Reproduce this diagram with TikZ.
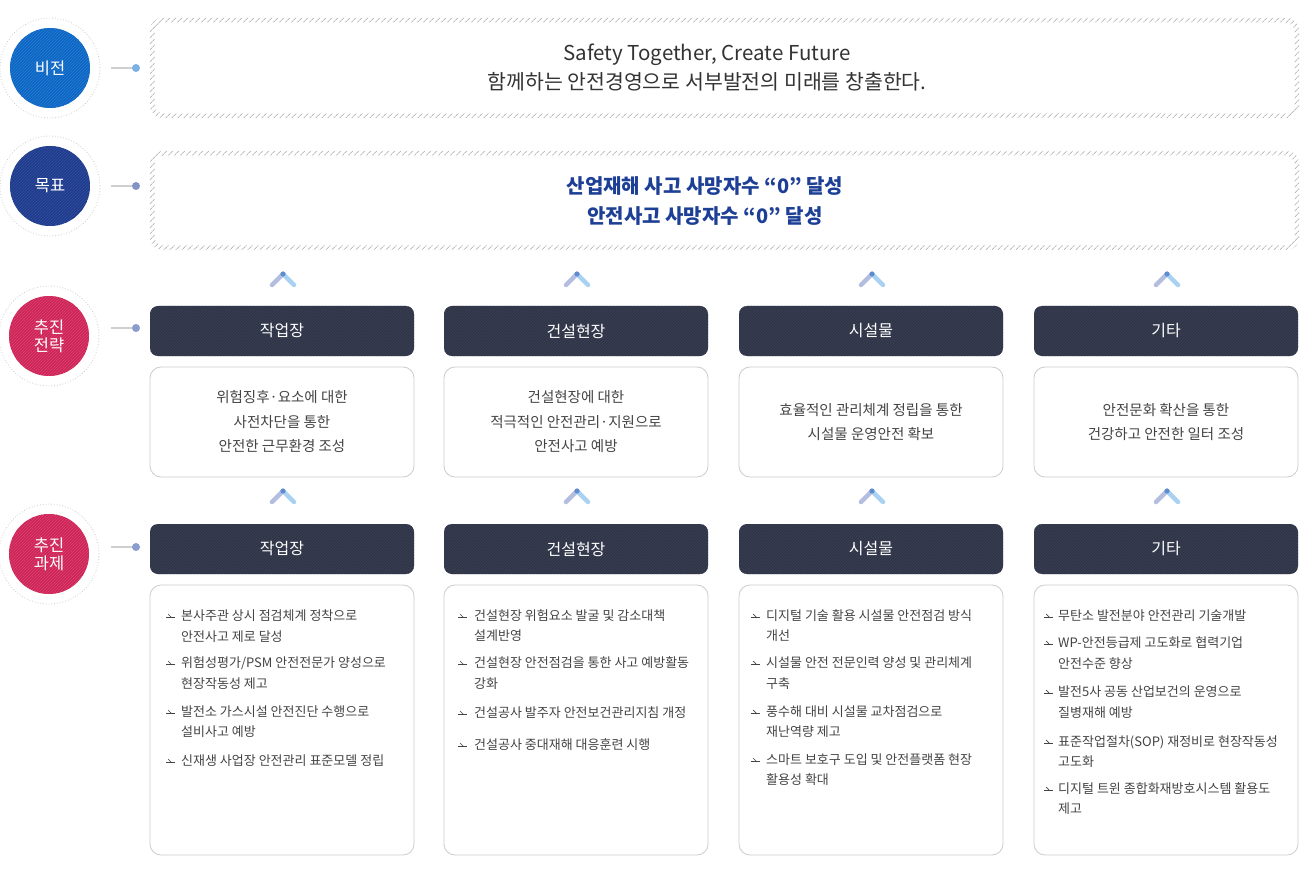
\documentclass[tikz,border=0pt]{standalone}
\usepackage{fontspec}
\setmainfont{Noto Sans CJK KR}
\usetikzlibrary{patterns,patterns.meta}
\definecolor{hdrcol}{HTML}{2F3447}
\definecolor{hdrln}{HTML}{3C4256}
\definecolor{cblue}{HTML}{0B66C3}
\definecolor{cblueln}{HTML}{2A7BD0}
\definecolor{cnavy}{HTML}{1F3B8D}
\definecolor{cnavyln}{HTML}{34509C}
\definecolor{cred}{HTML}{CF2457}
\definecolor{credln}{HTML}{DA4471}
\definecolor{goaltxt}{HTML}{1D3F96}
\definecolor{dotA}{HTML}{7DB0E3}
\definecolor{dotB}{HTML}{8294C6}
\definecolor{dotC}{HTML}{8B9DD0}
\definecolor{chevL}{HTML}{B3BDE0}
\definecolor{chevR}{HTML}{A9D2F2}
\definecolor{chevD}{HTML}{5F8BD0}
\definecolor{bord}{HTML}{CCCCCC}
\definecolor{txt}{HTML}{444444}
\definecolor{conn}{HTML}{CFCFCF}
\definecolor{hatch}{HTML}{BDBDBD}
\tikzset{
  outerring/.style={draw=bord, dotted, line width=0.8pt, circle, minimum size=100pt, inner sep=0pt},
  badge/.style={circle, minimum size=80pt, inner sep=0pt, text=white, align=center,
     font=\fontsize{16.5}{22}\selectfont},
  hdr/.style={fill=hdrcol, rounded corners=8pt, minimum width=264pt, minimum height=50pt,
     text=white, font=\fontsize{16}{20}\selectfont, inner sep=0pt,
     postaction={pattern=north east lines, pattern color=hdrln}},
  desc/.style={draw=bord, line width=0.8pt, rounded corners=11pt, minimum width=264pt,
     minimum height=110pt, inner sep=0pt, align=center, text=txt,
     font=\fontsize{14.5}{24.5}\selectfont},
  taskbox/.style={draw=bord, line width=0.8pt, rounded corners=11pt, minimum width=264pt,
     minimum height=270pt, inner sep=0pt},
  task/.style={anchor=west, inner sep=0pt, text=txt, font=\fontsize{13}{15}\selectfont},
  connline/.style={draw=conn, line width=1.6pt},
  hatchband/.style={pattern={Lines[angle=45,distance=4pt,line width=0.9pt]}, pattern color=hatch, even odd rule},
  bul/.pic={\draw[txt, line width=0.7pt] (0,1) -- (9,1); \draw[txt, line width=0.7pt] (2,-2) -- (5,1);},
  chev/.pic={
    \draw[chevL, line width=4.5pt, line cap=round] (-11,11) -- (0,0);
    \draw[chevR, line width=4.5pt, line cap=round] (0,0) -- (11,11);
    \fill[chevD] (0,0) circle (2.6pt);}
}
\begin{document}
\begin{tikzpicture}[x=1pt,y=-1pt]
\useasboundingbox (0,0) rectangle (1300,874);
\fill[white] (0,0) rectangle (1300,874);

% ---- left badges
\node[outerring] (rv) at (50,68) {};
\node[outerring] (rg) at (50,186) {};
\node[outerring] (rs) at (49,336) {};
\node[outerring] (rt) at (49,554) {};
\node[badge, fill=cblue, postaction={pattern=north east lines, pattern color=cblueln}] (cv) at (50,68) {비전};
\node[badge, fill=cnavy, postaction={pattern=north east lines, pattern color=cnavyln}] (cg) at (50,186) {목표};
\node[badge, fill=cred, postaction={pattern=north east lines, pattern color=credln}] (cs) at (49,336) {추진\\[-4pt]전략};
\node[badge, fill=cred, postaction={pattern=north east lines, pattern color=credln}] (ct) at (49,554) {추진\\[-4pt]과제};

% ---- connectors
\coordinate (lv) at (111,68);  \coordinate (dv) at (136,68);
\coordinate (lg) at (111,186); \coordinate (dg) at (136,186);
\coordinate (ls) at (111,328); \coordinate (ds) at (136,328);
\coordinate (lt) at (111,547); \coordinate (dt) at (136,547);
\draw[connline] (lv) -- (dv); \fill[dotA] (dv) circle (4pt);
\draw[connline] (lg) -- (dg); \fill[dotB] (dg) circle (4pt);
\draw[connline] (ls) -- (ds); \fill[dotC] (ds) circle (4pt);
\draw[connline] (lt) -- (dt); \fill[dotC] (dt) circle (4pt);

% ---- hatched frames
\path[hatchband]
  [rounded corners=12pt] (150,18) rectangle (1299,118)
  [rounded corners=9pt] (154.5,22.5) rectangle (1294.5,113.5);
\path[hatchband]
  [rounded corners=12pt] (150,151) rectangle (1299,250)
  [rounded corners=9pt] (154.5,155.5) rectangle (1294.5,245.5);
\node[inner sep=0pt, align=center, text=black!80, font=\fontsize{20.5}{29}\selectfont] (vis) at (707,68)
  {Safety Together, Create Future\\함께하는 안전경영으로 서부발전의 미래를 창출한다.};
\node[inner sep=0pt, align=center, text=goaltxt, font=\fontsize{20}{30}\selectfont\bfseries] (goal) at (705,201)
  {산업재해 사고 사망자수 “0” 달성\\안전사고 사망자수 “0” 달성};

% ---- chevrons
\foreach \cx in {283,577,872,1167} {
  \pic at (\cx,274) {chev};
  \pic at (\cx,491) {chev};
}

% ---- strategy headers
\node[hdr] (s1) at (282,331) {작업장};
\node[hdr] (s2) at (576,331) {건설현장};
\node[hdr] (s3) at (871,331) {시설물};
\node[hdr] (s4) at (1166,331) {기타};

% ---- strategy descriptions
\node[desc] (d1) at (282,422) {위험징후·요소에 대한\\사전차단을 통한\\안전한 근무환경 조성};
\node[desc] (d2) at (576,422) {건설현장에 대한\\적극적인 안전관리·지원으로\\안전사고 예방};
\node[desc] (d3) at (871,422) {효율적인 관리체계 정립을 통한\\시설물 운영안전 확보};
\node[desc] (d4) at (1166,422) {안전문화 확산을 통한\\건강하고 안전한 일터 조성};

% ---- task headers
\node[hdr] (p1) at (282,549) {작업장};
\node[hdr] (p2) at (576,549) {건설현장};
\node[hdr] (p3) at (871,549) {시설물};
\node[hdr] (p4) at (1166,549) {기타};

% ---- task boxes
\node[taskbox] (b1) at (282,720) {};
\node[taskbox] (b2) at (576,720) {};
\node[taskbox] (b3) at (871,720) {};
\node[taskbox] (b4) at (1166,720) {};

% column 1
\pic at (166,616) {bul}; \node[task] (t11) at (181,616) {본사주관 상시 점검체계 정착으로};
\node[task] (t12) at (181,637) {안전사고 제로 달성};
\pic at (166,663) {bul}; \node[task] (t13) at (181,663) {위험성평가/PSM 안전전문가 양성으로};
\node[task] (t14) at (181,684) {현장작동성 제고};
\pic at (166,712) {bul}; \node[task] (t15) at (181,712) {발전소 가스시설 안전진단 수행으로};
\node[task] (t16) at (181,732) {설비사고 예방};
\pic at (166,761) {bul}; \node[task] (t17) at (181,761) {신재생 사업장 안전관리 표준모델 정립};

% column 2
\pic at (458,616) {bul}; \node[task] (t21) at (474,616) {건설현장 위험요소 발굴 및 감소대책};
\node[task] (t22) at (474,636) {설계반영};
\pic at (458,663) {bul}; \node[task] (t23) at (474,663) {건설현장 안전점검을 통한 사고 예방활동};
\node[task] (t24) at (474,684) {강화};
\pic at (458,713) {bul}; \node[task] (t25) at (474,713) {건설공사 발주자 안전보건관리지침 개정};
\pic at (458,745) {bul}; \node[task] (t26) at (474,745) {건설공사 중대재해 대응훈련 시행};

% column 3
\pic at (751,616) {bul}; \node[task] (t31) at (766,616) {디지털 기술 활용 시설물 안전점검 방식};
\node[task] (t32) at (766,636) {개선};
\pic at (751,663) {bul}; \node[task] (t33) at (766,663) {시설물 안전 전문인력 양성 및 관리체계};
\node[task] (t34) at (766,684) {구축};
\pic at (751,712) {bul}; \node[task] (t35) at (766,712) {풍수해 대비 시설물 교차점검으로};
\node[task] (t36) at (766,732) {재난역량 제고};
\pic at (751,760) {bul}; \node[task] (t37) at (766,760) {스마트 보호구 도입 및 안전플랫폼 현장};
\node[task] (t38) at (766,780) {활용성 확대};

% column 4
\pic at (1044,616) {bul}; \node[task] (t41) at (1058,616) {무탄소 발전분야 안전관리 기술개발};
\pic at (1044,643) {bul}; \node[task] (t42) at (1058,643) {WP-안전등급제 고도화로 협력기업};
\node[task] (t43) at (1058,664) {안전수준 향상};
\pic at (1044,692) {bul}; \node[task] (t44) at (1058,692) {발전5사 공동 산업보건의 운영으로};
\node[task] (t45) at (1058,713) {질병재해 예방};
\pic at (1044,742) {bul}; \node[task] (t46) at (1058,742) {표준작업절차(SOP) 재정비로 현장작동성};
\node[task] (t47) at (1058,762) {고도화};
\pic at (1044,789) {bul}; \node[task] (t48) at (1058,789) {디지털 트윈 종합화재방호시스템 활용도};
\node[task] (t49) at (1058,809) {제고};
\end{tikzpicture}
\end{document}
